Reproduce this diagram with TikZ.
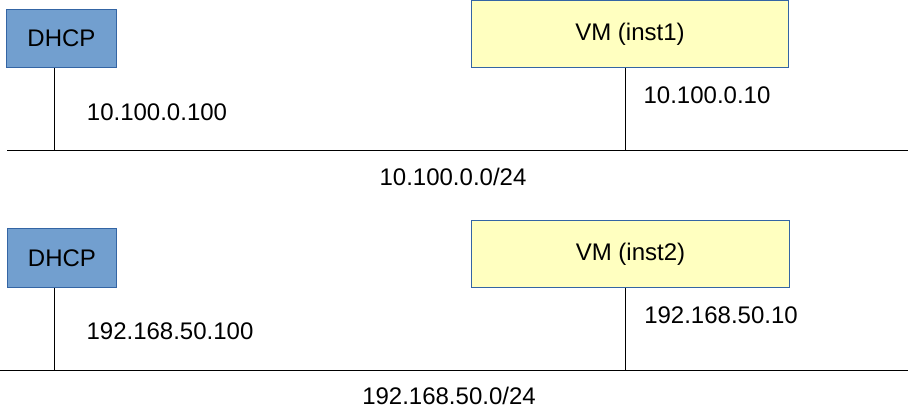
\documentclass[tikz,border=0pt]{standalone}
\usepackage{fontspec}
\setmainfont{Liberation Sans}
\usetikzlibrary{positioning}
\usepackage{xcolor}
\definecolor{dhcpfill}{RGB}{114,159,207}
\definecolor{boxborder}{RGB}{52,101,164}
\definecolor{vmfill}{RGB}{255,255,192}

\begin{document}
\begin{tikzpicture}[x=0.75pt, y=-0.75pt,
    every node/.style={font=\fontsize{18}{22}\selectfont},
    dhcpbox/.style={draw=boxborder, fill=dhcpfill, rectangle, line width=0.75pt, minimum width=82pt, minimum height=44pt, inner sep=0pt},
    vmbox/.style={draw=boxborder, fill=vmfill, rectangle, line width=0.75pt, minimum width=238pt, minimum height=50pt, inner sep=0pt},
    wire/.style={line width=0.75pt}]
    \useasboundingbox (0,0) rectangle (909,418);

    % first network
    \node[dhcpbox] (dhcp1) at (61.5,38.5) {DHCP};
    \node[vmbox] (vm1) at (630,34) {VM (inst1)};
    \coordinate (net1w) at (7,150);
    \coordinate (net1e) at (908,150);
    \coordinate (tapdhcp1) at (54,150);
    \coordinate (tapvm1) at (625,150);
    \draw[wire] (net1w) -- (net1e);
    \draw[wire] (tapdhcp1 |- dhcp1.south) -- (tapdhcp1);
    \draw[wire] (tapvm1 |- vm1.south) -- (tapvm1);
    \node (ipdhcp1) at (157,112) {10.100.0.100};
    \node (ipvm1) at (707,95) {10.100.0.10};
    \node (net1) at (453,177) {10.100.0.0/24};

    % second network
    \node[dhcpbox] (dhcp2) at (62,258) {DHCP};
    \node[vmbox] (vm2) at (630.5,254) {VM (inst2)};
    \coordinate (net2w) at (0,370);
    \coordinate (net2e) at (908,370);
    \coordinate (tapdhcp2) at (54,370);
    \coordinate (tapvm2) at (625,370);
    \draw[wire] (net2w) -- (net2e);
    \draw[wire] (tapdhcp2 |- dhcp2.south) -- (tapdhcp2);
    \draw[wire] (tapvm2 |- vm2.south) -- (tapvm2);
    \node (ipdhcp2) at (170,331) {192.168.50.100};
    \node (ipvm2) at (721,315) {192.168.50.10};
    \node (net2) at (449,396) {192.168.50.0/24};
\end{tikzpicture}
\end{document}
